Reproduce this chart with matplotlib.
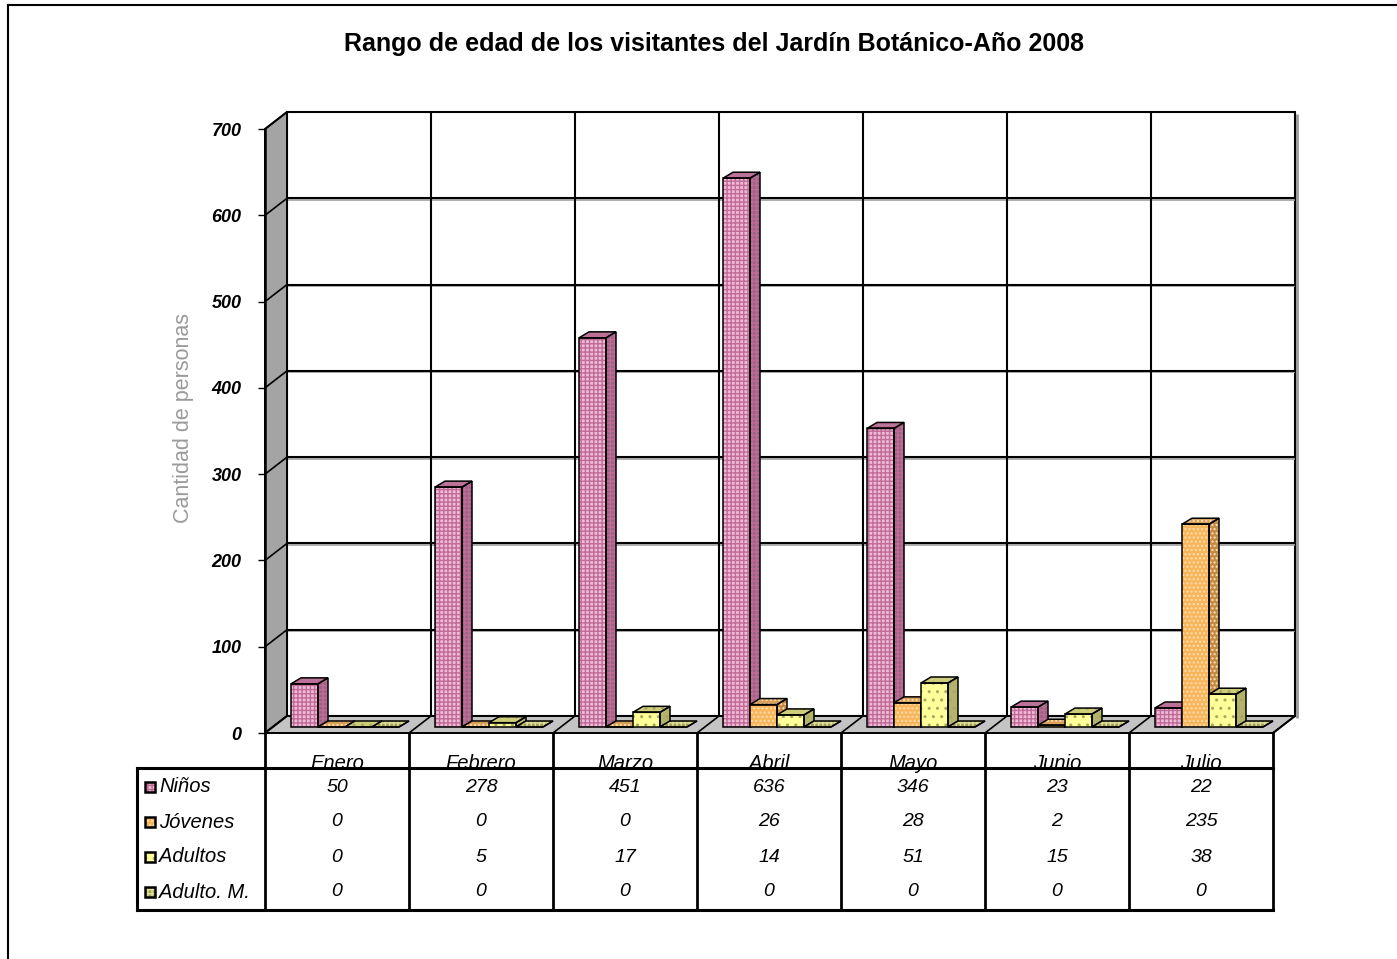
import matplotlib.pyplot as plt
from matplotlib.patches import Polygon, Rectangle
from matplotlib.lines import Line2D
from matplotlib.transforms import blended_transform_factory

plt.rcParams['font.family'] = ['Liberation Sans', 'DejaVu Sans']
plt.rcParams['hatch.linewidth'] = 1.0

# datos
meses = ['Enero', 'Febrero', 'Marzo', 'Abril', 'Mayo', 'Junio', 'Julio']
series = ['Niños', 'Jóvenes', 'Adultos', 'Adulto. M.']
ninos = [50, 278, 451, 636, 346, 23, 22]
jovenes = [0, 0, 0, 26, 28, 2, 235]
adultos = [0, 5, 17, 14, 51, 15, 38]
adulto_m = [0, 0, 0, 0, 0, 0, 0]
valores = [ninos, jovenes, adultos, adulto_m]
yticks = [0, 100, 200, 300, 400, 500, 600, 700]

# (frente, trama, lado, arriba, patron)
estilos = [
    ('#EDBCD7', '#C26B98', '#9A6482', '#B47A98', '++++'),
    ('#F9B55A', '#FFE0B4', '#C38A44', '#D9A058', '....'),
    ('#FFFF99', '#A8A860', '#B3B36A', '#CDCD7A', '..'),
    ('#A6A45E', '#E2E098', '#8A8848', '#9E9C58', '++++'),
]

W, H = 1397, 959
fig = plt.figure(figsize=(W / 100, H / 100), dpi=100)

ax = fig.add_axes([265 / W, 1 - 733 / H, 1008 / W, 604 / H])
x0, x1 = -0.5, len(meses) - 0.5
ymax = yticks[-1]
ax.set_xlim(x0, x1)
ax.set_ylim(0, ymax)
ax.patch.set_visible(False)
for s in ['top', 'right', 'bottom']:
    ax.spines[s].set_visible(False)
ax.spines['left'].set_linewidth(1.8)
ax.spines['left'].set_zorder(8)
ax.set_xticks([])
ax.set_yticks(yticks)
ax.tick_params(axis='y', length=5, width=1, pad=12, labelsize=13)
for lb in ax.get_yticklabels():
    lb.set_fontweight('bold')
    lb.set_fontstyle('italic')

# desplazamientos 3D (en unidades de datos)
px = 1 / 144
py = ymax / 604
WDX, WDY = 22 * px, 17 * py
BFX, BFY = 8 * px, 6 * py
BDX, BDY = 10 * px, 6 * py


def poly(pts, **kw):
    ax.add_patch(Polygon(pts, closed=True, clip_on=False, **kw))


def line(xs, ys, **kw):
    kw.setdefault('color', 'black')
    ax.plot(xs, ys, clip_on=False, solid_capstyle='butt', **kw)


# pared del fondo
poly([(x0 + WDX, WDY), (x1 + WDX, WDY), (x1 + WDX, ymax + WDY), (x0 + WDX, ymax + WDY)],
     facecolor='white', edgecolor='black', lw=1.5, zorder=1)
line([x1 + WDX + 2.5 * px] * 2, [WDY - 2 * py, ymax + WDY - 2 * py], color='#9A9A9A', lw=2, zorder=0.5)
for v in yticks[1:-1]:
    line([x0 + WDX, x1 + WDX], [v + WDY - 1.5 * py] * 2, color='#A0A0A0', lw=1.2, zorder=1.5)
    line([x0 + WDX, x1 + WDX], [v + WDY] * 2, lw=1.5, zorder=2)
for k in range(1, len(meses)):
    line([x0 + k + WDX] * 2, [WDY, ymax + WDY], lw=1.5, zorder=2)

# pared lateral
poly([(x0, 0), (x0, ymax), (x0 + WDX, ymax + WDY), (x0 + WDX, WDY)],
     facecolor='#A4A4A4', edgecolor='black', lw=1.4, zorder=3)
for v in yticks:
    line([x0, x0 + WDX], [v, v + WDY], lw=1.2, zorder=3.5)

# piso
poly([(x0, 0), (x1, 0), (x1 + WDX, WDY), (x0 + WDX, WDY)],
     facecolor='#C4C4C4', edgecolor='black', lw=1.4, zorder=3)
for k in range(1, len(meses) + 1):
    line([x0 + k, x0 + k + WDX], [0, WDY], lw=1.2, zorder=3.5)

# barras
w = 0.1875
n = len(series)
for i in range(len(meses)):
    for j in range(n):
        v = valores[j][i]
        fr, tr, la, ar, pat = estilos[j]
        bx = i - n * w / 2 + j * w + BFX
        by = BFY
        front = [(bx, by), (bx + w, by), (bx + w, by + v), (bx, by + v)]
        side = [(bx + w, by), (bx + w + BDX, by + BDY), (bx + w + BDX, by + v + BDY), (bx + w, by + v)]
        top = [(bx, by + v), (bx + w, by + v), (bx + w + BDX, by + v + BDY), (bx + BDX, by + v + BDY)]
        z = 4 + i + j * 0.1
        for pts, col in [(side, la), (top, ar), (front, fr)]:
            poly(pts, facecolor=col, edgecolor=tr, hatch=pat, lw=0, zorder=z)
            poly(pts, fill=False, edgecolor='black', lw=1.1, zorder=z + 0.01)

# tabla de datos
blend = blended_transform_factory(ax.transData, fig.transFigure)


def ty(p):
    return 1 - p / H


xt = x0 - 128 * px
for k in range(len(meses) + 1):
    ax.plot([x0 + k] * 2, [ty(733), ty(910)], color='black', lw=2, transform=blend,
            clip_on=False, zorder=20)
ax.plot([xt, x1], [ty(768)] * 2, color='black', lw=2.2, transform=blend, clip_on=False, zorder=20)
ax.plot([xt, x1], [ty(910)] * 2, color='black', lw=2.2, transform=blend, clip_on=False, zorder=20)
ax.plot([xt, xt], [ty(768), ty(910)], color='black', lw=2.2, transform=blend, clip_on=False, zorder=20)

for i, m in enumerate(meses):
    ax.text(i, ty(769), m, transform=blend, ha='center', va='baseline', fontsize=14.5,
            style='italic', zorder=15)

filas = [787, 822, 857, 892]
for j, nombre in enumerate(series):
    fr, tr, la, ar, pat = estilos[j]
    yc = filas[j]
    ax.add_patch(Rectangle((x0 - 120 * px, ty(yc + 5)), 10 * px, 10 / H, transform=blend,
                           facecolor=fr, edgecolor=tr, hatch=pat, lw=0, clip_on=False, zorder=20))
    ax.add_patch(Rectangle((x0 - 120 * px, ty(yc + 5)), 10 * px, 10 / H, transform=blend,
                           fill=False, edgecolor='black', lw=1.8, clip_on=False, zorder=21))
    ax.text(x0 - 106 * px, ty(yc), nombre, transform=blend, ha='left', va='center',
            fontsize=14.5, style='italic', zorder=15)
    for i in range(len(meses)):
        ax.text(i, ty(yc), str(valores[j][i]), transform=blend, ha='center', va='center',
                fontsize=14, style='italic', zorder=15)

# titulo y eje
fig.text(714 / W, 1 - 44 / H, 'Rango de edad de los visitantes del Jardín Botánico-Año 2008',
         ha='center', va='center', fontsize=18, fontweight='bold')
fig.text(183 / W, 1 - 418 / H, 'Cantidad de personas', rotation=90, ha='center', va='center',
         fontsize=15.5, color='#9A9A9A')

# borde del area del grafico
fig.add_artist(Line2D([8 / W, 8 / W], [0, 1 - 5 / H], color='black', lw=1.5))
fig.add_artist(Line2D([8 / W, 1], [1 - 5 / H, 1 - 5 / H], color='black', lw=1.5))

fig.savefig('out.png', dpi=100)
